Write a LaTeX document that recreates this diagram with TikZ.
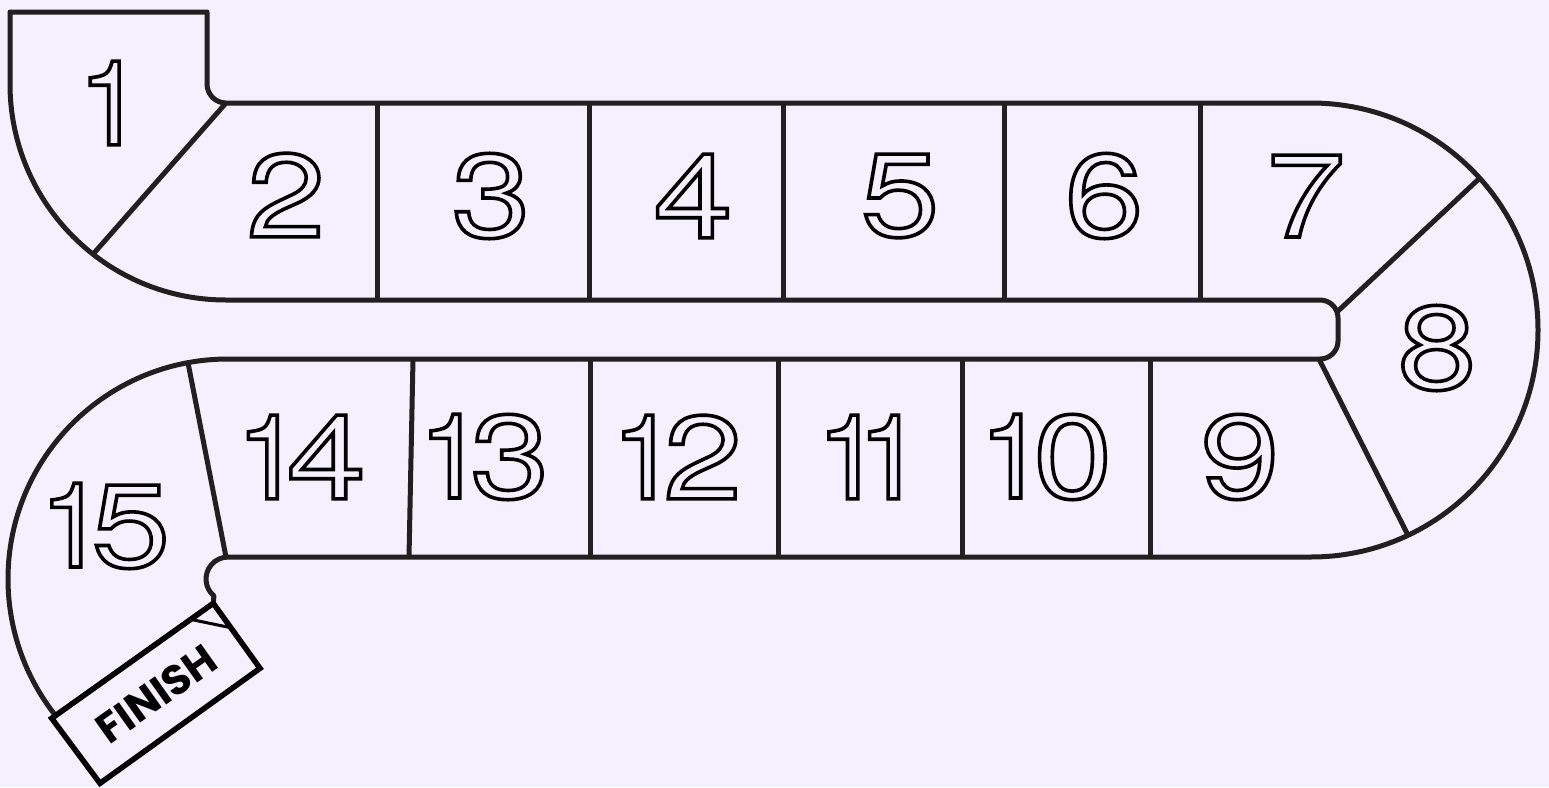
\documentclass[tikz,border=0pt]{standalone}
\usepackage{fontspec}
\usetikzlibrary{calc}
\newfontfamily\digitfont[FakeStretch=1.2]{TeX Gyre Heros}
\newfontfamily\onefont{TeX Gyre Heros}
\newfontfamily\finfont{Poppins}
\definecolor{bg}{HTML}{F4F0FD}
\definecolor{ink}{HTML}{231F20}
\newcommand\outl[1]{\special{pdf:literal direct 1 Tr 3.6 w}#1\special{pdf:literal direct 0 Tr}}
\newcommand\one{{\onefont 1}}
\tikzset{
  track/.style={draw=ink, line width=5pt, line join=round},
  num/.style={inner sep=0pt, text=black, font=\digitfont\fontsize{118}{118}\selectfont},
  finbox/.style={draw=black, line width=5.5pt, line join=miter, fill=bg},
  finlabel/.style={inner sep=0pt, text=black, rotate=35.4, font=\finfont\bfseries\fontsize{42}{42}\selectfont},
  flagline/.style={draw=black, line width=3pt},
}
\begin{document}
\begin{tikzpicture}[x=1pt,y=-1pt]
\fill[bg] (0,0) rectangle (1549,787);
\useasboundingbox (0,0) rectangle (1549,787);
% centres of the curved ends
\coordinate (cTL) at (226,84);
\coordinate (cR) at (1311,330);
\coordinate (cBL) at (228,579);
% finish box corners
\coordinate (A) at (51.7,718.3);
\coordinate (B) at (213.3,603.3);
\coordinate (C) at (260,668.3);
\coordinate (D) at (100,783.3);
% track outline
\draw[track] (207,12) -- (10,12) -- (10,84)
  arc[start angle=180, end angle=90, radius=216]
  -- (1320,300) arc[start angle=-90, end angle=0, radius=18]
  -- (1338,341) arc[start angle=0, end angle=90, radius=18]
  -- (228,359) arc[start angle=270, end angle=141.7, radius=220]
  -- (A) -- (B) -- (213.9,595.9)
  arc[start angle=130, end angle=270, radius=22]
  -- (1311,557) arc[start angle=90, end angle=-90, radius=227]
  -- (226,103) arc[start angle=90, end angle=180, radius=19]
  -- cycle;
% dividers
\draw[track] (226,103) -- ($(cTL)+(128:216)$);
\foreach \x in {377,589,783,1004,1200} \draw[track] (\x,103) -- (\x,300);
\draw[track] (1337,312) -- ($(cR)+(-42:227)$);
\draw[track] (1319,359) -- ($(cR)+(64.7:227)$);
\foreach \x in {590,778,962,1150} \draw[track] (\x,359) -- (\x,557);
\draw[track] (413,359) -- (409,557);
\draw[track] (188,362.7) -- (226,557);
% finish box
\draw[finbox] (A) -- (B) -- (C) -- (D) -- cycle;
\draw[flagline] ($(B)!0.14!(A)$) -- ($(B)!0.375!(C)$);
\node[finlabel] (fin) at (156.5,694) {FINISH};
% numbers
\node[num] (n1) at (111,103) {\outl{\one}};
\node[num] (n2) at (286,195) {\outl{2}};
\node[num] (n3) at (491,196) {\outl{3}};
\node[num] (n4) at (693,196) {\outl{4}};
\node[num] (n5) at (900,196) {\outl{5}};
\node[num] (n6) at (1104,196) {\outl{6}};
\node[num] (n7) at (1306,196) {\outl{7}};
\node[num] (n8) at (1437,348) {\outl{8}};
\node[num] (n9) at (1240,457) {\outl{9}};
\node[num] (n10) at (1046,457) {\outl{\one\kern-12pt 0}};
\node[num] (n11) at (870,457) {\outl{\one\kern-25pt\one}};
\node[num] (n12) at (677,457) {\outl{\one\kern-14pt 2}};
\node[num] (n13) at (484,457) {\outl{\one\kern-14pt 3}};
\node[num] (n14) at (301,457) {\outl{\one\kern-15pt 4}};
\node[num] (n15) at (105,526) {\outl{\one\kern-14pt 5}};
\end{tikzpicture}
\end{document}
